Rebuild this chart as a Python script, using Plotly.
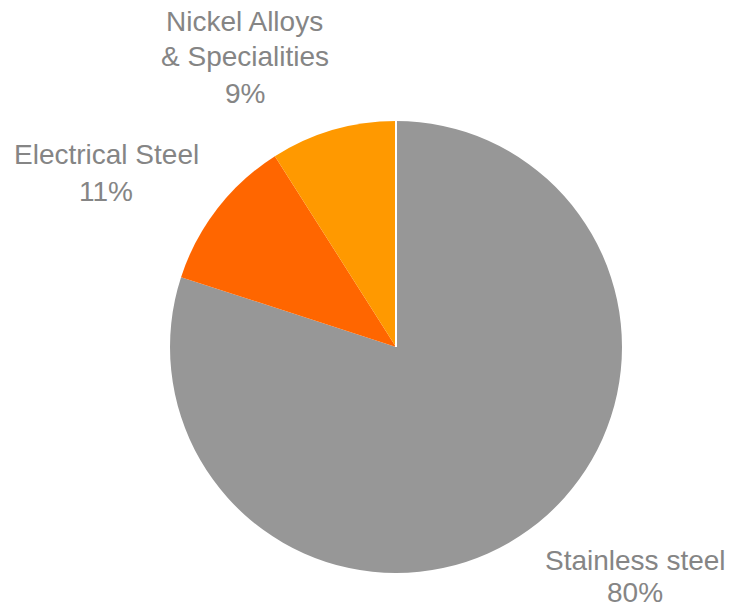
import plotly.graph_objects as go

# Product mix shares (%)
categories = ["Stainless steel", "Electrical Steel", "Nickel Alloys<br>& Specialities"]
shares = [80, 11, 9]
slice_colors = ["#979797", "#FF6600", "#FF9900"]

W, H = 743, 610
cx, cy, r = 396, 347, 226  # pie centre and radius in pixels

fig = go.Figure()
fig.add_trace(go.Pie(
    labels=categories,
    values=shares,
    sort=False,
    direction="clockwise",
    rotation=0,
    textinfo="none",
    hoverinfo="label+percent",
    marker=dict(colors=slice_colors, line=dict(width=0)),
    domain=dict(x=[(cx - r) / W, (cx + r) / W], y=[1 - (cy + r) / H, 1 - (cy - r) / H]),
    showlegend=False,
))

# thin white separator at the start angle (12 o'clock)
fig.add_shape(type="line", xref="paper", yref="paper",
              x0=cx / W, x1=cx / W, y0=1 - cy / H, y1=1 - (cy - r) / H,
              line=dict(color="white", width=2))

# label lines: (centre x px, centre y px of each line)
label_pos = {
    "Stainless steel": (635, [560, 592]),
    "Electrical Steel": (106, [155, 191]),
    "Nickel Alloys<br>& Specialities": (245, [22, 57, 94]),
}
font = dict(family="Liberation Sans, Arial, sans-serif", size=28, color="#858585")
for cat, val in zip(categories, shares):
    x, ys = label_pos[cat]
    lines = cat.split("<br>") + [f"{val}%"]
    for txt, y in zip(lines, ys):
        fig.add_annotation(text=txt, x=x / W, y=1 - y / H, xref="paper", yref="paper",
                           xanchor="center", yanchor="middle", showarrow=False, font=font)

fig.update_layout(width=W, height=H, margin=dict(l=0, r=0, t=0, b=0),
                  paper_bgcolor="white", plot_bgcolor="white")
fig.write_html("out.html")
